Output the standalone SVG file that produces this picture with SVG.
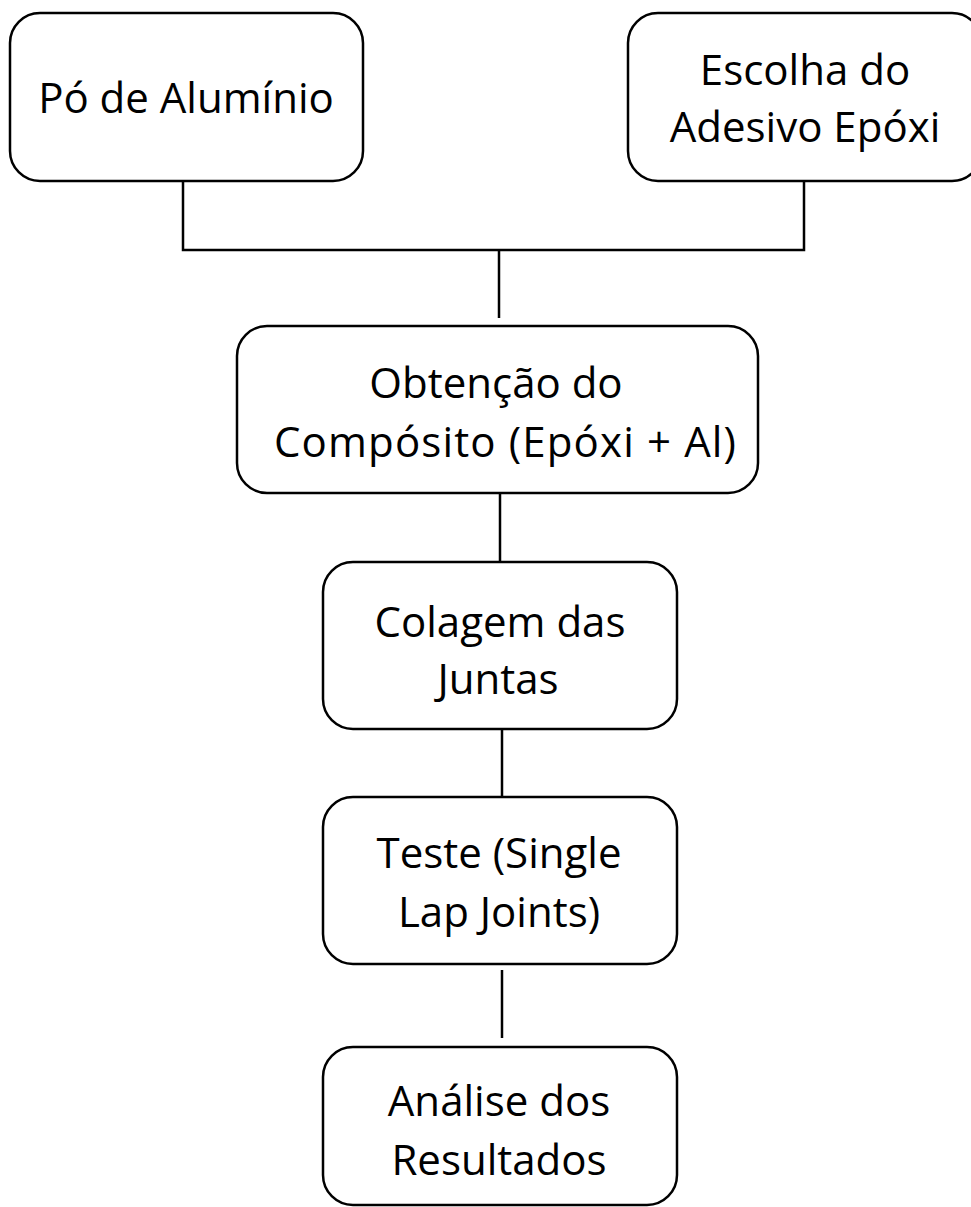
<svg xmlns="http://www.w3.org/2000/svg" width="971" height="1207" viewBox="0 0 971 1207">
<style>
.box{fill:#fff;stroke:#000;stroke-width:2.5}
.lbl{font-family:"Open Sans","Noto Sans",sans-serif;font-size:42px;fill:#000;text-anchor:middle}
.con{fill:none;stroke:#000;stroke-width:2.5}
</style>
<rect width="971" height="1207" fill="#fff"/>
<g id="connectors">
<polyline class="con" points="183,181 183,250 804,250 804,181"/>
<line class="con" x1="499" y1="250" x2="499" y2="318"/>
<line class="con" x1="500" y1="493" x2="500" y2="562"/>
<line class="con" x1="502" y1="729" x2="502" y2="797"/>
<line class="con" x1="502" y1="970" x2="502" y2="1038"/>
</g>
<g id="n1">
<rect class="box" x="10" y="13" width="353" height="168" rx="30"/>
<text class="lbl" x="186" y="113">Pó de Alumínio</text>
</g>
<g id="n2">
<rect class="box" x="628" y="13" width="354" height="168" rx="30"/>
<text class="lbl" x="805" y="85">Escolha do</text>
<text class="lbl" x="805" y="142">Adesivo Epóxi</text>
</g>
<g id="n3">
<rect class="box" x="237" y="326" width="521" height="167" rx="30"/>
<text class="lbl" x="496" y="398">Obtenção do</text>
<text class="lbl" x="505" y="457" textLength="462" lengthAdjust="spacing">Compósito (Epóxi + Al)</text>
</g>
<g id="n4">
<rect class="box" x="323" y="562" width="354" height="167" rx="30"/>
<text class="lbl" x="500" y="637">Colagem das</text>
<text class="lbl" x="498" y="694">Juntas</text>
</g>
<g id="n5">
<rect class="box" x="323" y="797" width="354" height="167" rx="30"/>
<text class="lbl" x="499" y="868">Teste (Single</text>
<text class="lbl" x="499" y="927">Lap Joints)</text>
</g>
<g id="n6">
<rect class="box" x="323" y="1047" width="354" height="158" rx="30"/>
<text class="lbl" x="499" y="1116">Análise dos</text>
<text class="lbl" x="499" y="1175">Resultados</text>
</g>
</svg>
